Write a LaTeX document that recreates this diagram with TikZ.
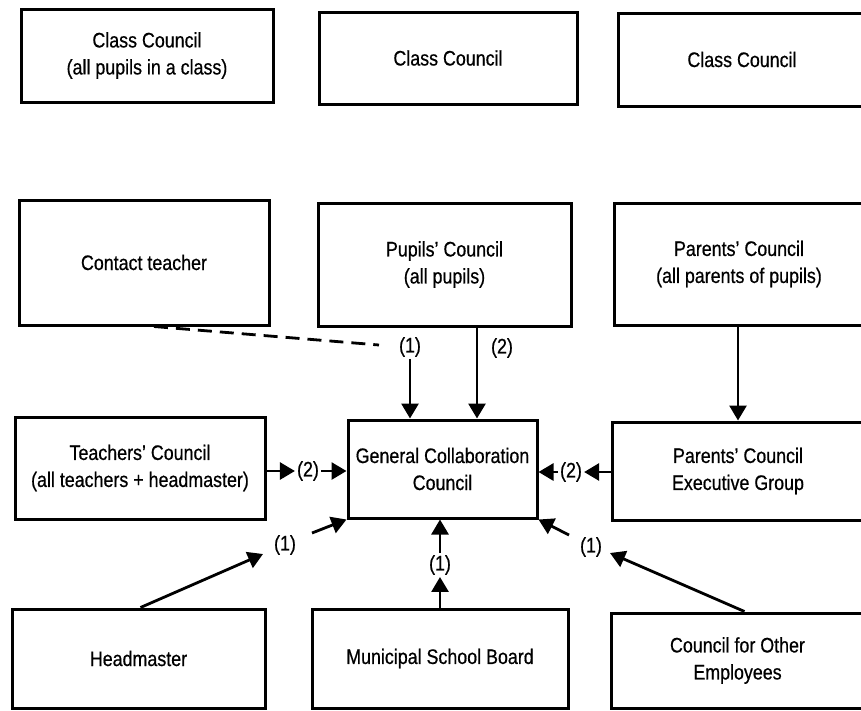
\documentclass[tikz,border=0pt]{standalone}
\usepackage{fontspec}
\setmainfont[FakeStretch=0.85,FakeBold=0.6]{Liberation Sans}
\usetikzlibrary{arrows.meta}
\tikzset{
  box/.style={draw, line width=3pt, align=center, inner sep=0pt},
  num/.style={inner sep=2pt},
  tip/.style={-{Triangle[length=15pt,width=17pt]}, line width=2.8pt},
}
\begin{document}
\begin{tikzpicture}[x=1pt,y=-1pt,font=\fontsize{21}{27}\selectfont]
\useasboundingbox (0,0) rectangle (861,710);
% class councils
\node [box, minimum width=252pt, minimum height=93pt] (cc1) at (147,55.5) {Class Council\\(all pupils in a class)};
\node [box, minimum width=258pt, minimum height=92pt] (cc2) at (448,58) {Class Council};
\node [box, minimum width=248pt, minimum height=93pt] (cc3) at (742,59.5) {Class Council};
% second row
\node [box, minimum width=250pt, minimum height=125pt] (ct) at (144,262.5) {Contact teacher};
\node [box, minimum width=253pt, minimum height=123pt] (pc) at (444.5,264.5) {Pupils' Council\\(all pupils)};
\node [box, minimum width=250pt, minimum height=122pt] (pa) at (739,264) {Parents' Council\\(all parents of pupils)};
% third row
\node [box, minimum width=250pt, minimum height=102pt] (tc) at (140,468) {Teachers' Council\\(all teachers + headmaster)};
\node [box, minimum width=189pt, minimum height=98pt] (gcc) at (442.5,469) {General Collaboration\\Council};
\node [box, minimum width=252pt, minimum height=98pt] (pe) at (738,471) {Parents' Council\\Executive Group};
% bottom row
\node [box, minimum width=253pt, minimum height=99pt] (hm) at (138.5,658.5) {Headmaster};
\node [box, minimum width=256pt, minimum height=99pt] (msb) at (440,658.5) {Municipal School Board};
\node [box, minimum width=253pt, minimum height=95pt] (coe) at (737.5,660.5) {Council for Other\\Employees};
% labels
\node [num] (c1) at (410,347) {(1)};
\node [num] (c2) at (502,348) {(2)};
\node [num] (t2) at (308,471) {(2)};
\node [num] (e2) at (571,472) {(2)};
\node [num] (h1) at (285,545) {(1)};
\node [num] (m1) at (440,565) {(1)};
\node [num] (o1) at (591,547) {(1)};
\coordinate (dend) at (379,345);
\coordinate (px) at (477,0);
\coordinate (ha) at (263,554);
\coordinate (hb) at (312,533);
\coordinate (oa) at (610,553);
\coordinate (ob) at (569,535);
% connectors
\draw [line width=2.8pt, dash pattern=on 14pt off 8pt] ([xshift=10pt]ct.south) -- (dend);
\draw [tip] (c1.south) -- (c1.south |- gcc.north);
\draw [tip] (px |- pc.south) -- (px |- gcc.north);
\draw [tip] (pe.north |- pa.south) -- (pe.north);
\draw [tip] (tc.east |- t2) -- (t2.west);
\draw [tip] (t2.east) -- (gcc.west |- t2);
\draw [tip] (pe.west |- e2) -- (e2.east);
\draw [tip] (e2.west) -- (gcc.east |- e2);
\draw [tip] ([xshift=2pt]hm.north) -- (ha);
\draw [tip] (hb) -- (gcc.south west);
\draw [tip] (msb.north) -- (m1.south);
\draw [tip] (m1.north) -- (m1.north |- gcc.south);
\draw [tip] ([xshift=7pt]coe.north) -- (oa);
\draw [tip] (ob) -- (gcc.south east);
\end{tikzpicture}
\end{document}
